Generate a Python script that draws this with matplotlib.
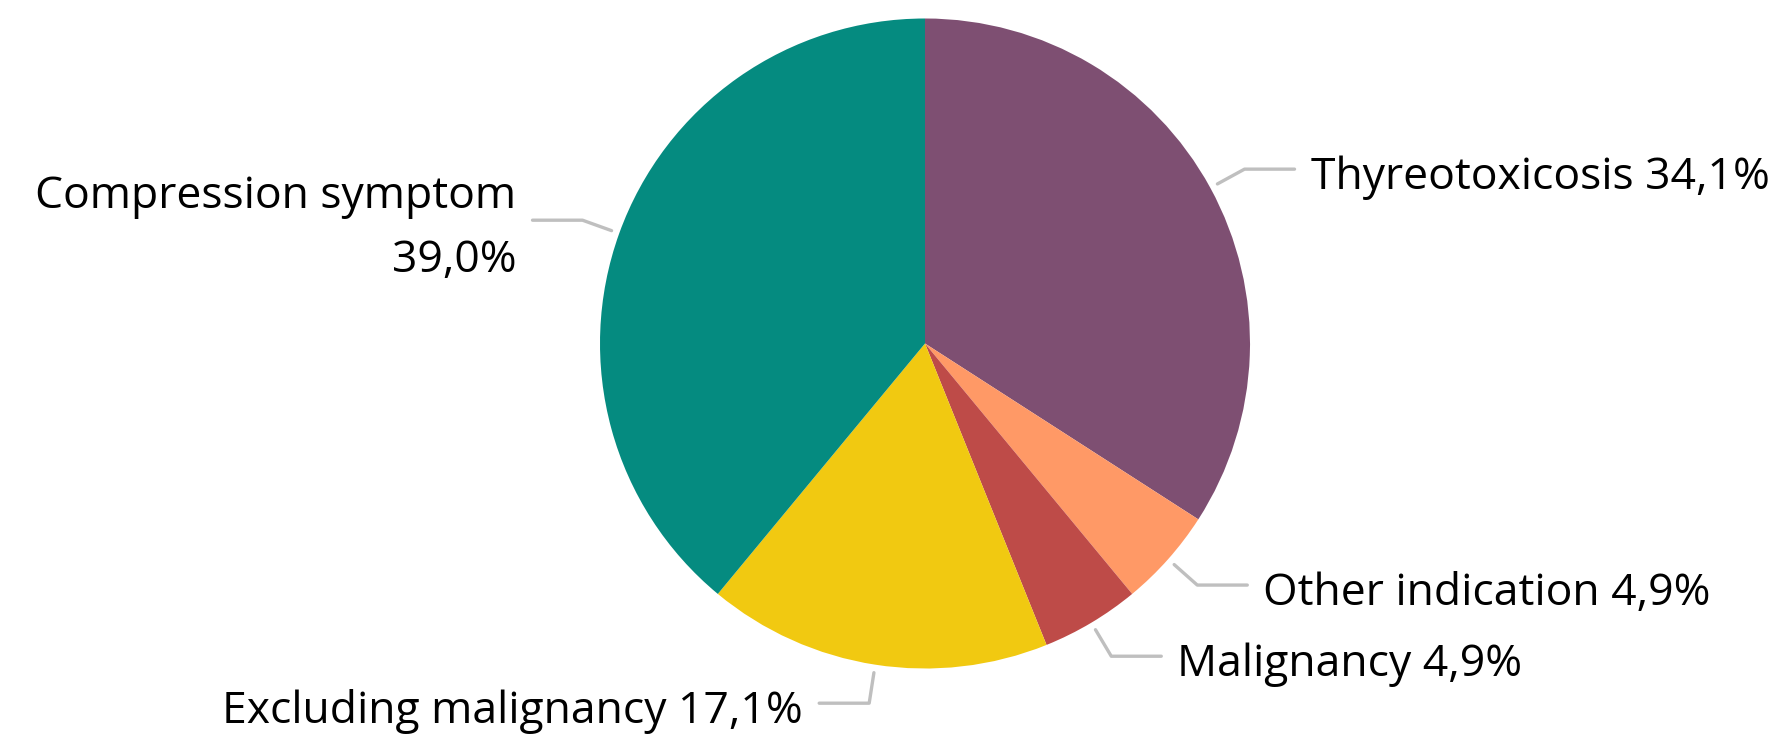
import numpy as np
import matplotlib
matplotlib.use("Agg")
import matplotlib.pyplot as plt

# ---- data ----
categories = ["Thyreotoxicosis", "Other indication", "Malignancy",
              "Excluding malignancy", "Compression symptom"]
values = [34.1, 4.9, 4.9, 17.1, 39.0]
colors = ["#7E4F72", "#FF9966", "#BE4B48", "#F1C911", "#058B80"]
separators = [" ", " ", " ", " ", "\n"]

plt.rcParams['font.family'] = ['Open Sans', 'DejaVu Sans']

W, H = 1783, 742
fig = plt.figure(figsize=(W / 100, H / 100), dpi=100)
ax = fig.add_axes([0, 0, 1, 1])

cx, cy, R = 925, H - 343.5, 325
wedges, _ = ax.pie(values, colors=colors, startangle=90, counterclock=False,
                   center=(cx, cy), radius=R,
                   wedgeprops=dict(linewidth=0, antialiased=True))

ax.set_xlim(0, W)
ax.set_ylim(0, H)
ax.set_aspect('equal')
ax.axis('off')

line_color = "#BFBFBF"
fs = 32
for w, cat, val, sep in zip(wedges, categories, values, separators):
    mid = np.deg2rad((w.theta1 + w.theta2) / 2)
    c, s = np.cos(mid), np.sin(mid)
    p0 = (cx + 1.025 * R * c, cy + 1.025 * R * s)
    p1 = (cx + 1.12 * R * c, cy + 1.12 * R * s)
    side = 1 if c >= 0 else -1
    p2 = (p1[0] + side * 50, p1[1])
    ax.plot([p0[0], p1[0], p2[0]], [p0[1], p1[1], p2[1]], color=line_color,
            lw=2.4, solid_capstyle='round', solid_joinstyle='round')
    label = f"{cat}{sep}{val:.1f}%".replace('.', ',')
    tx = p2[0] + side * 16
    ha = 'left' if side > 0 else 'right'
    if "\n" in label:
        # baseline of the last line sits below the leader line
        ax.text(tx, p2[1] - 52, label, ha=ha, va='baseline', fontsize=fs,
                color='black', linespacing=1.6, multialignment=ha)
    else:
        ax.text(tx, p2[1] - 20, label, ha=ha, va='baseline', fontsize=fs,
                color='black')

fig.savefig("out.png", dpi=100, facecolor='white')
